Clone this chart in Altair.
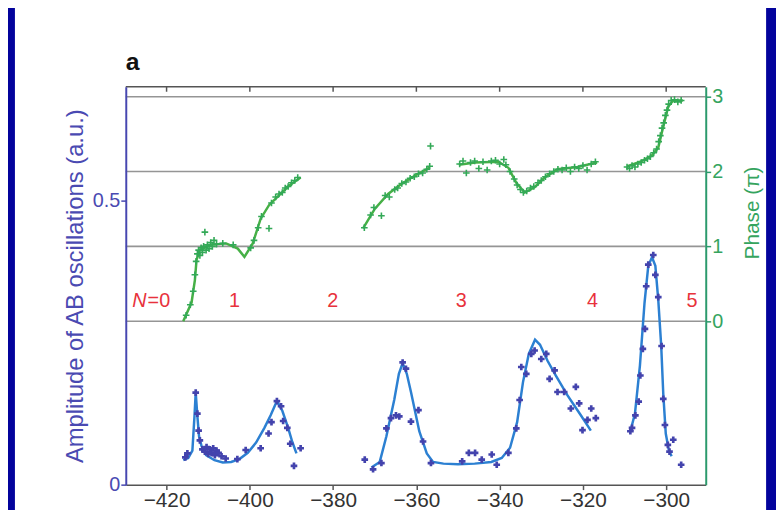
import altair as alt
import pandas as pd

# ---------------- data ----------------
X_DOMAIN = [-429.8, -290.5]
AMP_DOMAIN = [0, 0.70]
PHASE_DOMAIN = [-2.183, 3.132]
x_ticks = [-420, -400, -380, -360, -340, -320, -300]
amp_ticks = [0, 0.5]
phase_ticks = [0, 1, 2, 3]

# amplitude fit (blue line), three segments
amp_fit1_x = [-416.0, -414.8, -413.8, -413.3, -413.0, -412.6, -412.2, -411.6, -410.5, -408.5, -406.5,
              -404.5, -402.5, -400.5, -398.5, -396.5, -395.0, -393.5, -392.2, -390.8, -389.8, -388.8]
amp_fit1_y = [0.043, 0.047, 0.060, 0.120, 0.162, 0.120, 0.085, 0.068, 0.052, 0.043, 0.039,
              0.040, 0.045, 0.056, 0.074, 0.100, 0.122, 0.147, 0.130, 0.100, 0.075, 0.055]
amp_fit2_x = [-370.8, -368.8, -367.2, -365.3, -364.2, -363.3, -362.3, -361.3, -359.3, -357.5, -356.0,
              -353.5, -350.0, -346.0, -342.0, -339.5, -337.5, -335.8, -334.4, -333.0, -331.5, -330.3,
              -328.5, -326.5, -323.7, -320.5, -318.1]
amp_fit2_y = [0.030, 0.040, 0.085, 0.150, 0.195, 0.214, 0.195, 0.163, 0.094, 0.055, 0.040,
              0.037, 0.036, 0.037, 0.040, 0.047, 0.065, 0.110, 0.180, 0.230, 0.255, 0.246,
              0.218, 0.192, 0.157, 0.122, 0.095]
amp_fit3_x = [-308.6, -307.5, -306.3, -305.2, -304.3, -303.4, -302.6, -301.9, -301.2, -300.7, -300.1,
              -299.4, -298.7]
amp_fit3_y = [0.094, 0.125, 0.210, 0.320, 0.385, 0.400, 0.385, 0.325, 0.245, 0.160, 0.090,
              0.062, 0.050]

# amplitude measurements (blue points)
amp_pts_x = [-415.5, -415.0, -413.0, -412.6, -412.3, -412.0, -411.4, -410.8, -410.4, -410.0, -409.6,
             -409.2, -408.8, -408.4, -408.0, -407.5, -406.8, -405.8, -403.0, -401.0, -397.4, -395.5,
             -394.8, -393.5, -392.5, -392.0, -391.0, -390.3, -389.4, -387.8,
             -372.4, -370.4, -368.4, -367.2, -366.1, -364.9, -364.1, -363.3, -362.5, -361.3, -359.5,
             -358.4, -356.5, -349.0, -347.4, -345.9, -344.3, -341.9, -340.7, -337.9, -336.0, -335.2,
             -334.8, -333.6, -332.4, -331.6, -330.0, -328.8, -328.0, -326.8, -326.1, -324.5, -322.9,
             -321.7, -320.9, -320.1, -318.9, -318.0, -316.9,
             -308.6, -308.2, -307.4, -306.6, -306.2, -305.6, -305.1, -304.8, -304.3, -303.1, -302.6,
             -301.9, -301.1, -300.7, -300.3, -299.6, -299.2, -298.3, -296.4]
amp_pts_y = [0.048, 0.055, 0.162, 0.125, 0.095, 0.078, 0.062, 0.058, 0.066, 0.054, 0.062,
             0.056, 0.064, 0.052, 0.060, 0.056, 0.050, 0.046, 0.045, 0.061, 0.064, 0.090,
             0.110, 0.147, 0.138, 0.112, 0.100, 0.072, 0.033, 0.064,
             0.044, 0.027, 0.038, 0.099, 0.117, 0.122, 0.120, 0.215, 0.204, 0.111, 0.131,
             0.076, 0.038, 0.041, 0.056, 0.056, 0.044, 0.053, 0.035, 0.056, 0.099, 0.149,
             0.207, 0.195, 0.230, 0.236, 0.221, 0.230, 0.186, 0.201, 0.163, 0.163, 0.134,
             0.172, 0.143, 0.096, 0.114, 0.134, 0.117,
             0.094, 0.100, 0.122, 0.146, 0.192, 0.239, 0.274, 0.349, 0.387, 0.404, 0.369,
             0.330, 0.244, 0.151, 0.105, 0.070, 0.058, 0.079, 0.035]

# phase fit (green line), four segments, in units of pi
ph_fit1_x = [-416.0, -414.0, -413.2, -412.8, -412.0, -409.6, -405.7, -402.9, -401.3, -399.3, -397.4,
             -395.4, -393.0, -390.6, -387.8]
ph_fit1_y = [0.00, 0.25, 0.55, 0.82, 0.95, 1.02, 1.04, 0.97, 0.86, 1.04, 1.37,
             1.55, 1.68, 1.81, 1.92]
ph_fit2_x = [-372.8, -370.0, -366.8, -363.7, -360.5, -356.9]
ph_fit2_y = [1.24, 1.50, 1.70, 1.83, 1.94, 2.05]
ph_fit3_x = [-349.8, -345.9, -340.3, -337.9, -336.0, -334.0, -331.6, -329.2, -326.1, -321.3, -316.6]
ph_fit3_y = [2.09, 2.12, 2.13, 2.05, 1.85, 1.72, 1.79, 1.92, 2.03, 2.06, 2.12]
ph_fit4_x = [-309.4, -305.9, -303.5, -301.9, -301.1, -300.3, -299.5, -298.3, -296.0]
ph_fit4_y = [2.07, 2.14, 2.21, 2.32, 2.51, 2.69, 2.87, 2.95, 2.95]

# phase measurements (green crosses)
ph_pts_x = [-415.3, -414.3, -413.6, -413.2, -412.9, -412.6, -412.3, -412.0, -411.7, -411.4, -411.1,
            -410.8, -410.5, -410.2, -409.8, -409.4, -409.0, -408.6, -408.0, -406.5, -404.0, -399.8,
            -399.0, -398.0, -397.2, -395.4, -394.8, -393.8, -393.0, -392.2, -391.5, -390.8, -390.0,
            -389.2, -388.5,
            -372.5, -371.0, -370.2, -368.4, -367.5, -366.5, -365.2, -364.5, -363.5, -362.5, -361.5,
            -360.5, -359.5, -358.5, -357.5, -356.6, -356.8,
            -349.6, -348.8, -348.0, -347.0, -346.0, -345.0, -344.0, -343.0, -342.0, -341.0, -340.0,
            -339.0, -338.5, -337.5, -336.5, -335.8, -335.0, -334.3, -333.5, -332.6, -331.8, -330.8,
            -330.0, -329.0, -328.0, -327.0, -326.0, -325.0, -324.0, -323.0, -322.0, -321.0, -320.0,
            -319.0, -318.0, -317.0,
            -309.4, -308.8, -308.2, -307.5, -306.8, -306.0, -305.2, -304.5, -303.8, -303.0, -302.3,
            -301.8, -301.4, -301.0, -300.6, -300.2, -299.8, -299.4, -298.8, -298.0, -297.2, -296.4]
ph_pts_y = [0.08, 0.22, 0.40, 0.62, 0.80, 0.90, 0.95, 0.88, 0.98, 0.92, 1.00,
            1.19, 0.95, 1.02, 0.97, 1.05, 1.00, 1.08, 1.03, 1.04, 1.02, 0.98,
            1.08, 1.25, 1.40, 1.24, 1.58, 1.66, 1.70, 1.72, 1.78, 1.80, 1.85,
            1.88, 1.92,
            1.25, 1.42, 1.52, 1.41, 1.68, 1.66, 1.76, 1.78, 1.84, 1.86, 1.91,
            1.93, 1.97, 1.98, 2.03, 2.34, 2.07,
            2.10, 2.14, 1.98, 2.12, 2.14, 2.04, 2.13, 2.02, 2.14, 2.15, 2.10,
            2.16, 2.09, 2.00, 1.90, 1.82, 1.76, 1.72, 1.74, 1.78, 1.80, 1.85,
            1.88, 1.93, 1.97, 2.00, 2.03, 2.02, 2.05, 2.00, 2.06, 2.04, 2.08,
            2.02, 2.10, 2.13,
            2.06, 2.04, 2.08, 2.06, 2.10, 2.12, 2.15, 2.17, 2.20, 2.25, 2.30,
            2.40, 2.48, 2.58, 2.65, 2.75, 2.82, 2.90, 2.95, 2.96, 2.93, 2.95]

# red Landau-level labels (positioned in phase units)
lvl_text = ["1", "2", "3", "4", "5"]
lvl_x = [-403.7, -380.1, -349.2, -317.7, -293.8]
lvl_n_x = [-424.8]
lvl_y = 0.185
panel_label = "a"

# ---------------- frames ----------------
def segs(pairs):
    rows = []
    for i, (xs_, ys_) in enumerate(pairs):
        for a, b in zip(xs_, ys_):
            rows.append({"x": a, "y": b, "seg": i})
    return pd.DataFrame(rows)

amp_fit = segs([(amp_fit1_x, amp_fit1_y), (amp_fit2_x, amp_fit2_y), (amp_fit3_x, amp_fit3_y)])
ph_fit = segs([(ph_fit1_x, ph_fit1_y), (ph_fit2_x, ph_fit2_y), (ph_fit3_x, ph_fit3_y), (ph_fit4_x, ph_fit4_y)])
amp_pts = pd.DataFrame({"x": amp_pts_x, "y": amp_pts_y})
ph_pts = pd.DataFrame({"x": ph_pts_x, "y": ph_pts_y})
lvl = pd.DataFrame({"x": lvl_x, "t": lvl_text, "y": [lvl_y] * len(lvl_x)})
lvl_n = pd.DataFrame({"x": lvl_n_x, "y": [lvl_y]})

# ---------------- styling ----------------
FONT = "Liberation Sans"
NAVY = "#03039c"
AMP_C = "#4343ad"
AMP_LINE = "#2c80d2"
PH_C = "#33a957"
PH_LINE = "#46b046"
AX_GREEN = "#2c9a6c"
RED = "#e8323c"
W, H = 586, 402

xs = alt.Scale(domain=X_DOMAIN, nice=False, zero=False)
amp_s = alt.Scale(domain=AMP_DOMAIN, nice=False, zero=False)
ph_s = alt.Scale(domain=PHASE_DOMAIN, nice=False, zero=False)

x_axis = alt.Axis(values=x_ticks, format="d", title=None, grid=False, labelFont=FONT,
                  labelFontSize=21, labelColor="#333333", domainColor="#555555", domainWidth=1.5,
                  tickColor="#555555", tickWidth=1.5, tickSize=5, labelPadding=0, zindex=1)
amp_axis = alt.Axis(orient="left", values=amp_ticks, format="~g", grid=False,
                    title="Amplitude of AB oscillations (a.u.)", titleFont=FONT, titleFontSize=24,
                    titleFontWeight="normal", titleColor="#4a4ab2", titlePadding=5,
                    labelFont=FONT, labelFontSize=20, labelColor="#4a4ab2", labelPadding=1,
                    domainColor="#4747b0", domainWidth=2, tickColor="#4747b0", tickWidth=1.5,
                    tickSize=5, zindex=1)
ph_axis = alt.Axis(orient="right", values=phase_ticks, format="d", grid=False,
                   title="Phase (\u03c0)", titleFont=FONT, titleFontSize=21, titleFontWeight="normal",
                   titleColor="#35a45e", titleAngle=270, titleBaseline="top", titlePadding=19,
                   titleY=127, titleAlign="center",
                   labelFont=FONT, labelFontSize=20, labelColor="#35a45e", labelPadding=1,
                   domainColor=AX_GREEN, domainWidth=2, tickColor=AX_GREEN, tickWidth=1.5,
                   tickSize=5, zindex=1)

one = pd.DataFrame({"k": [0]})

panel = alt.Chart(one).mark_rect(color="white").encode(
    x=alt.value(-112), x2=alt.value(647), y=alt.value(-90), y2=alt.value(440))

label_a = alt.Chart(one).mark_text(text=panel_label, font=FONT, fontSize=25, fontWeight="bold",
                                   color="#111111", align="left", baseline="alphabetic").encode(
    x=alt.value(0), y=alt.value(-17))

grid = alt.Chart(pd.DataFrame({"p": phase_ticks})).mark_rule(color="#959595", strokeWidth=1.6).encode(
    y=alt.Y("p:Q", scale=ph_s, axis=None))

top_border = alt.Chart(one).mark_rule(color="#555555", strokeWidth=1.5).encode(y=alt.value(0))

top_ticks = alt.Chart(pd.DataFrame({"t": x_ticks})).mark_rule(color="#555555", strokeWidth=1.5).encode(
    x=alt.X("t:Q", scale=xs, axis=x_axis), y=alt.value(0), y2=alt.value(5))

amp_line = alt.Chart(amp_fit).mark_line(color=AMP_LINE, strokeWidth=2.5).encode(
    x=alt.X("x:Q", scale=xs, axis=x_axis),
    y=alt.Y("y:Q", scale=amp_s, axis=amp_axis),
    detail="seg:N")

amp_dots = alt.Chart(amp_pts).mark_point(shape="cross", filled=True, color=AMP_C, size=45, opacity=1).encode(
    x=alt.X("x:Q", scale=xs, axis=x_axis),
    y=alt.Y("y:Q", scale=amp_s, axis=None))

ph_line = alt.Chart(ph_fit).mark_line(color=PH_LINE, strokeWidth=2.5).encode(
    x=alt.X("x:Q", scale=xs, axis=x_axis),
    y=alt.Y("y:Q", scale=ph_s, axis=ph_axis),
    detail="seg:N")

ph_dots = alt.Chart(ph_pts).mark_point(shape="M-1,0L1,0M0,-1L0,1", filled=False, color=PH_C,
                                        size=45, strokeWidth=1.6, opacity=1).encode(
    x=alt.X("x:Q", scale=xs, axis=x_axis),
    y=alt.Y("y:Q", scale=ph_s, axis=None))

lvl_txt = alt.Chart(lvl).mark_text(color=RED, font=FONT, fontSize=20, align="center",
                                   baseline="alphabetic").encode(
    x=alt.X("x:Q", scale=xs, axis=x_axis),
    y=alt.Y("y:Q", scale=ph_s, axis=None),
    text="t:N")

lvl_N = alt.Chart(lvl_n).mark_text(color=RED, font=FONT, fontSize=20, fontStyle="italic",
                                   align="right", baseline="alphabetic", text="N").encode(
    x=alt.X("x:Q", scale=xs, axis=x_axis),
    y=alt.Y("y:Q", scale=ph_s, axis=None))

lvl_eq = alt.Chart(lvl_n).mark_text(color=RED, font=FONT, fontSize=20, align="left",
                                    baseline="alphabetic", text="=0", dx=1).encode(
    x=alt.X("x:Q", scale=xs, axis=x_axis),
    y=alt.Y("y:Q", scale=ph_s, axis=None))

chart = alt.layer(
    panel, label_a, grid, top_border, top_ticks, amp_line, amp_dots, ph_line, ph_dots,
    lvl_txt, lvl_N, lvl_eq
).resolve_scale(y="independent").properties(
    width=W, height=H,
    padding={"left": 119, "top": 77, "right": 71, "bottom": 23},
    autosize=alt.AutoSizeParams(type="none"),
    background=NAVY,
).configure_view(stroke=None)

chart.save("out.html", embed_options={"renderer": "svg", "actions": False})
